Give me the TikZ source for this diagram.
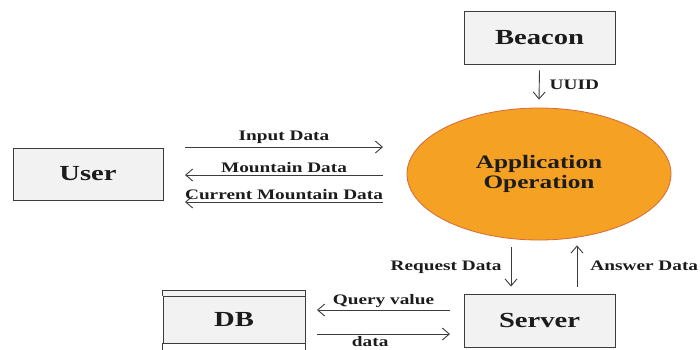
\documentclass[tikz,border=0pt]{standalone}
\usepackage{fontspec}
\newfontfamily\dfdfont[FakeStretch=1.33]{Liberation Serif}
\usetikzlibrary{shapes.geometric,arrows.meta}
\definecolor{boxgray}{HTML}{F2F2F2}
\definecolor{apporange}{HTML}{F4A124}
\definecolor{appedge}{HTML}{D6693A}
\definecolor{inkgray}{HTML}{3C3C3C}
\definecolor{textink}{HTML}{1C1C1C}
\tikzset{
  entity/.style={draw=inkgray, fill=boxgray, line width=0.9pt, inner sep=0pt,
    text=textink, font=\dfdfont\bfseries\fontsize{21.5}{24}\selectfont},
  flow/.style={draw=inkgray, line width=0.9pt, -{Straight Barb[length=7pt,width=12pt]}},
  flowlbl/.style={text=textink, inner sep=1pt, font=\dfdfont\bfseries\fontsize{14.5}{16}\selectfont}
}
\begin{document}
\begin{tikzpicture}[x=1pt,y=-1pt]
             \useasboundingbox (0,0) rectangle (700,349);
             \node[entity, minimum width=151pt, minimum height=53pt] (Beacon) at (539.5,37.5) {Beacon};
             \node[entity, minimum width=150pt, minimum height=52pt] (User) at (88,174) {User};
             \node[entity, minimum width=151pt, minimum height=53pt] (Server) at (539.5,320.5) {Server};
             \node[entity, minimum width=142pt, minimum height=47pt] (DB) at (234,319.5) {DB};
             \node[ellipse, draw=appedge, fill=apporange, line width=0.8pt, minimum width=264pt, minimum height=132pt,
                   align=center, text=textink, font=\dfdfont\bfseries\fontsize{19}{20}\selectfont] (App) at (539,174) {Application\\Operation};

             \filldraw[draw=inkgray, fill=boxgray, line width=0.9pt] (DB.north west) -- ++(0,-5) -| (DB.north east);
             \draw[inkgray, line width=0.9pt] (DB.south west) -- ++(0,8);
             \draw[inkgray, line width=0.9pt] (DB.south east) -- ++(0,8);

             \coordinate (inL) at (185,147);
             \coordinate (inR) at (383,147);
             \coordinate (mtL) at (185,175);
             \coordinate (mtR) at (383,175);
             \coordinate (cmL) at (185,202);
             \coordinate (cmR) at (383,202);
             \coordinate (qvL) at (317,310);
             \coordinate (qvR) at (450,310);
             \coordinate (dtL) at (317,334);
             \coordinate (dtR) at (450,334);

             \draw [flow] ([yshift=-6pt]Beacon.south) -- node[flowlbl, right=9pt] {UUID} ([yshift=8pt]App.north);
             \draw [flow] (inL) -- node[flowlbl, above=2pt] {Input Data} (inR);
             \draw [flow] (mtR) -- node[flowlbl, above=1pt] {Mountain Data} (mtL);
             \draw [flow] (cmR) -- node[flowlbl, above=1pt] {Current Mountain Data} (cmL);
             \draw [flow] ([xshift=-28pt,yshift=-7pt]App.south) -- node[flowlbl, left=8pt] {Request Data} ([xshift=-28.5pt,yshift=7pt]Server.north);
             \draw [flow] ([xshift=37.5pt,yshift=7pt]Server.north) -- node[flowlbl, right=12pt] {Answer Data} ([xshift=38pt,yshift=-5pt]App.south);
             \draw [flow] (qvR) -- node[flowlbl, above=1pt] {Query value} (qvL);
             \draw [flow] (dtL) -- node[flowlbl, below=0.5pt, pos=0.4] {data} (dtR);

         \end{tikzpicture}
\end{document}
